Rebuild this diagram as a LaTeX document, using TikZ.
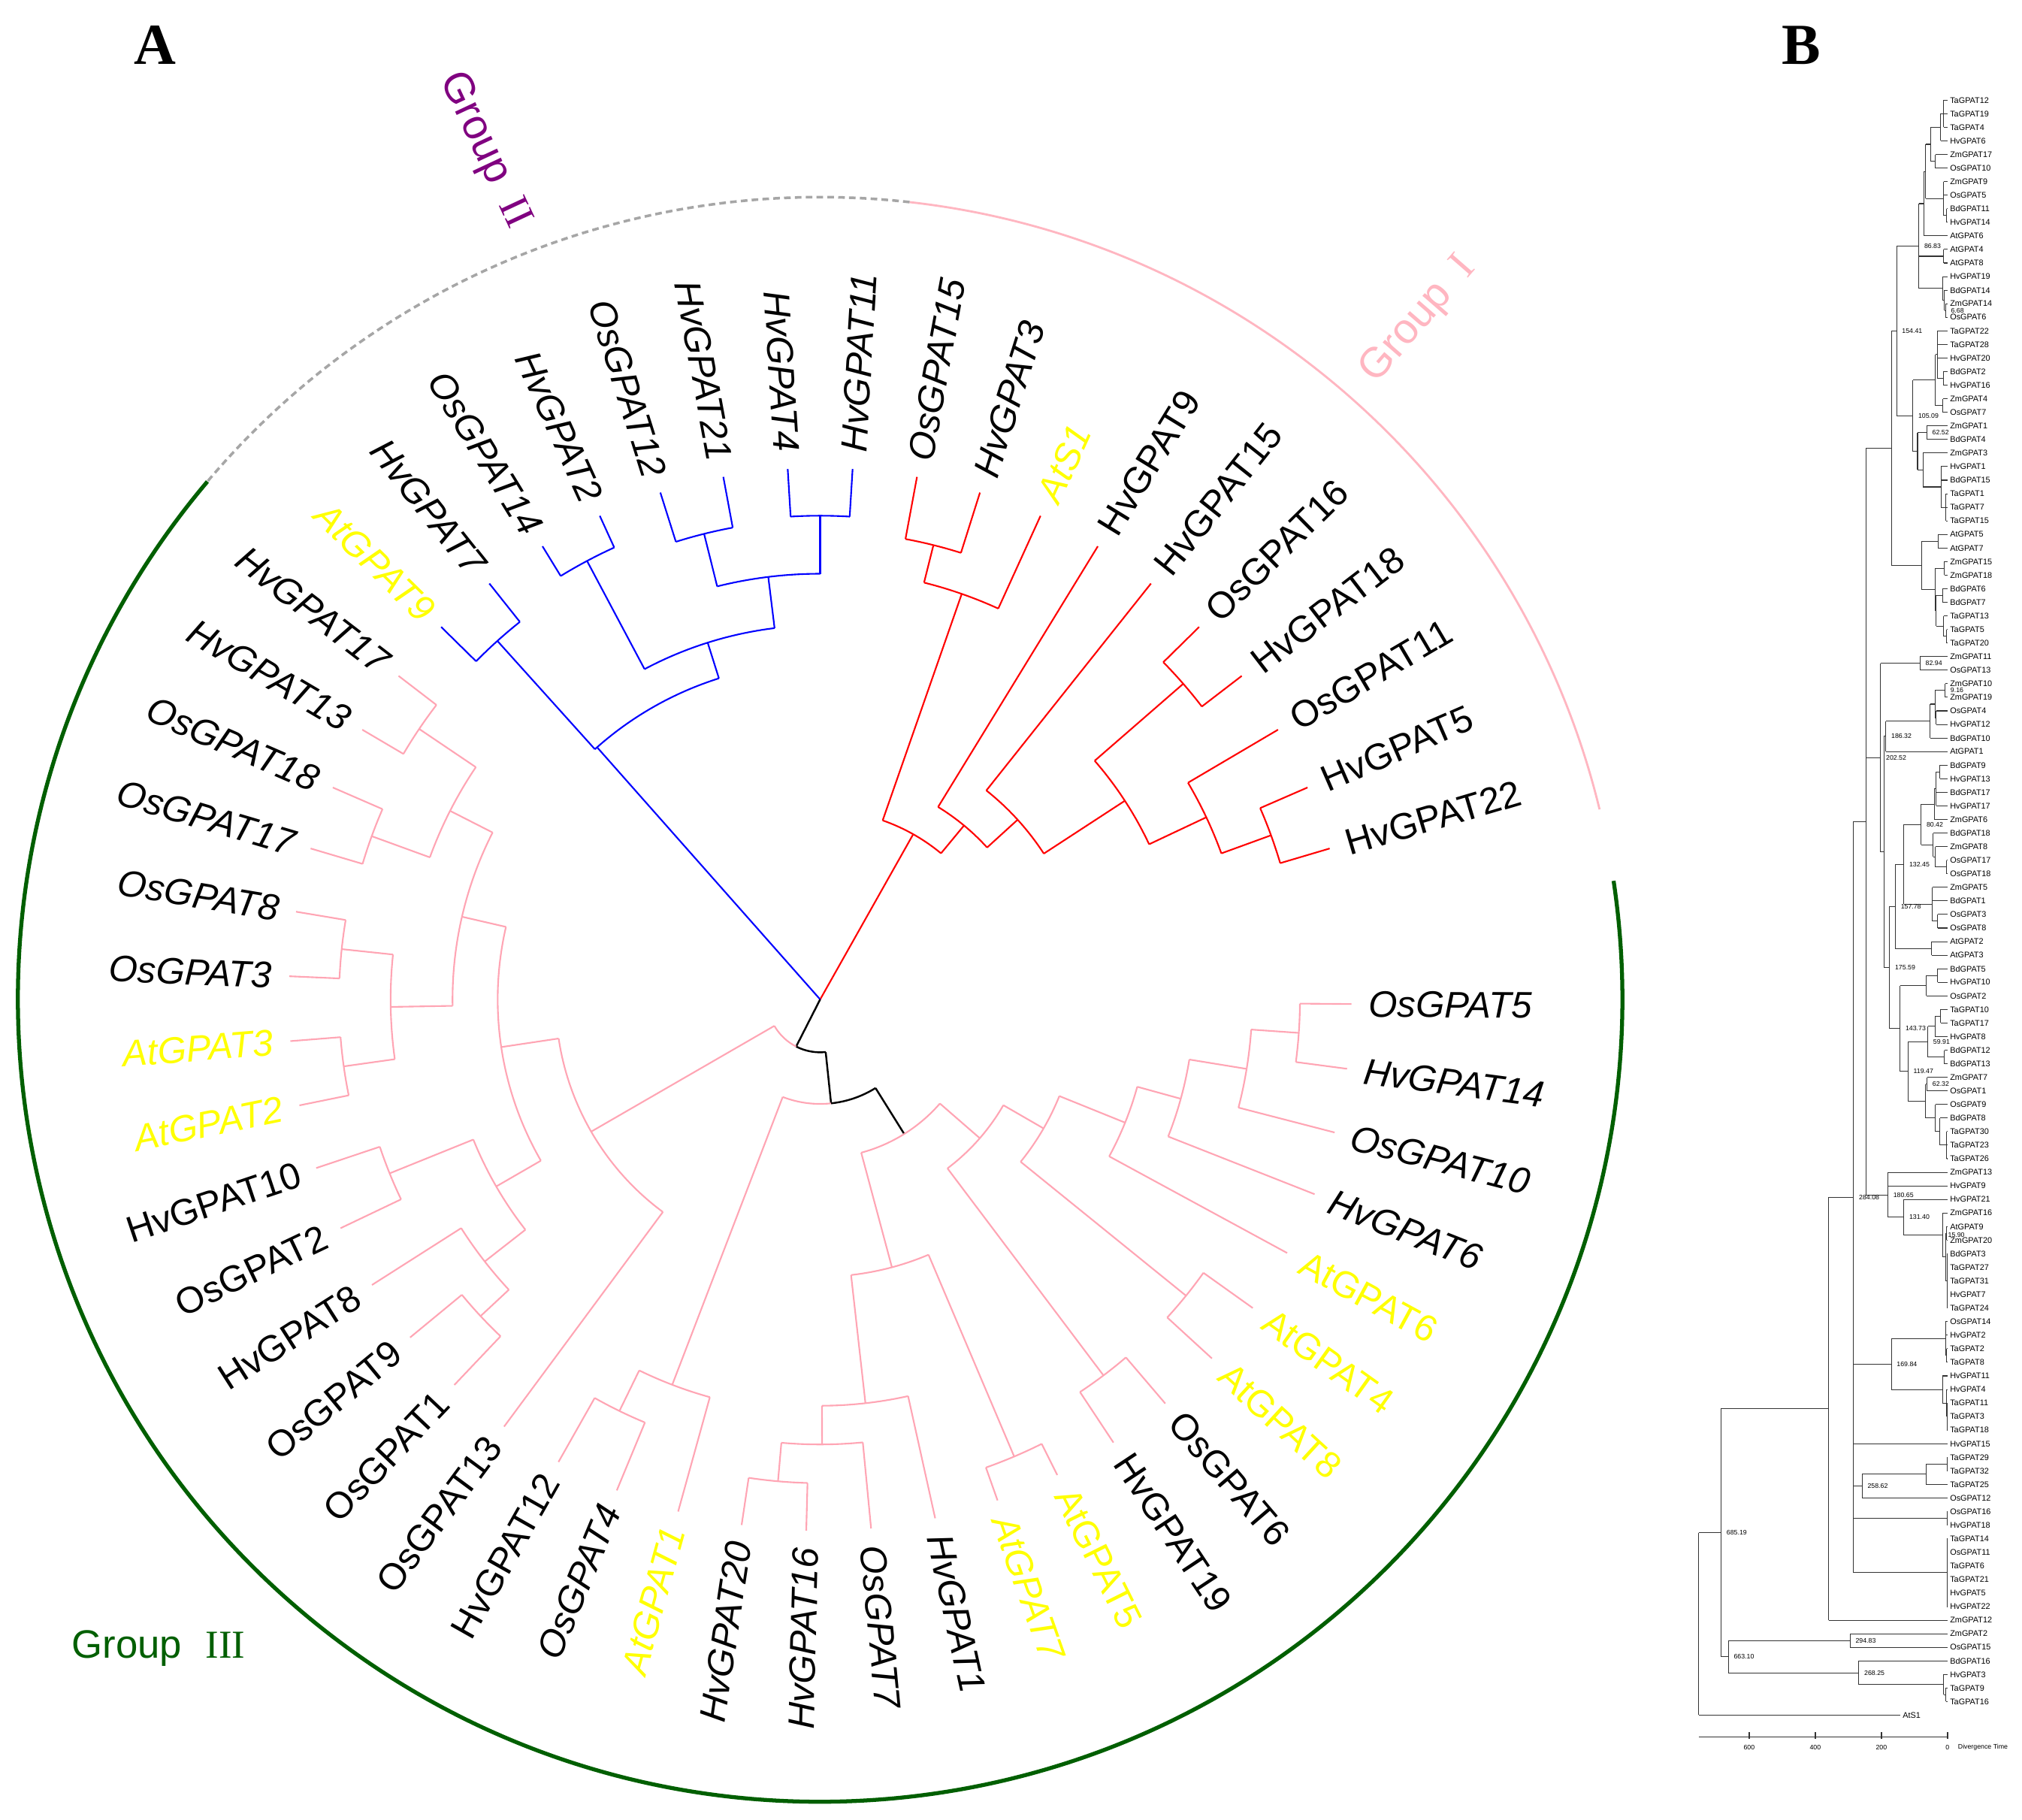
\documentclass[tikz,border=0pt]{standalone}
\usepackage{fontspec}
\setmainfont{Liberation Sans}
\newfontfamily\serifhead{Liberation Serif}
\usetikzlibrary{positioning,calc}

\definecolor{pinkline}{RGB}{255,165,180}
\definecolor{pinkgroup}{RGB}{255,182,193}
\definecolor{purplegroup}{RGB}{128,0,128}
\definecolor{greengroup}{RGB}{0,95,0}
\definecolor{atyellow}{RGB}{255,255,0}

\tikzset{
  redb/.style={red, line width=0.6pt},
  blueb/.style={blue, line width=0.6pt},
  pinkb/.style={pinkline, line width=0.6pt},
  blackb/.style={black, line width=0.7pt},
  leaflab/.style={inner sep=0pt, font=\fontsize{14}{16}\selectfont},
  grouplab/.style={inner sep=0pt, font=\fontsize{16}{18}\selectfont},
  blab/.style={anchor=west, inner sep=0pt, font=\fontsize{3.1}{3.5}\selectfont},
  tlab/.style={anchor=west, inner sep=0pt, font=\fontsize{2.5}{3}\selectfont},
  bline/.style={black!80, line width=0.3pt},
}
% polar tree helpers: style, angle, r1, r2 / style, radius, a1, a2
\newcommand\radial[4]{\draw[#1] (#2:#3) -- (#2:#4);}
\newcommand\cladearc[4]{\draw[#1] (#3:#2) arc[start angle=#3, end angle=#4, radius={#2*0.01716cm}];}
\newcommand\leafpair[4]{\cladearc{#1}{#2}{#3}{#4}\radial{#1}{#3}{#2}{412}\radial{#1}{#4}{#2}{412}}

\begin{document}
\begin{tikzpicture}
\fill[white] (0,0) rectangle (26.91,24.21);
\useasboundingbox (0,0) rectangle (26.91,24.21);

\node[font=\serifhead\bfseries\fontsize{22}{24}\selectfont] (hA) at (2.06,23.61) {A};
\node[font=\serifhead\bfseries\fontsize{22}{24}\selectfont] (hB) at (23.97,23.61) {B};

%% panel A: circular tree
\begin{scope}[shift={(10.915,10.91)}, x=0.01716cm, y=0.01716cm]

% group rings
\cladearc{pinkgroup, line width=0.8pt}{622}{13.7}{83.6}
\cladearc{gray!70, line width=1pt, dash pattern=on 2.5pt off 1.6pt}{622}{83.6}{139.8}
\cladearc{greengroup, line width=1.5pt}{622}{139.8}{368.5}

\node[grouplab, text=pinkgroup, rotate=49] (gI) at (464,527) {Group\hspace{0.5em}{\serifhead I}};
\node[grouplab, text=purplegroup, rotate=-65] (gII) at (-260,658) {Group\hspace{0.5em}{\serifhead II}};
\node[grouplab, text=greengroup, font=\fontsize{15}{17}\selectfont] (gIII) at (-513,-503) {Group\hspace{0.6em}{\serifhead III}};

% group I
\radial{redb}{60.6}{0}{147}
\cladearc{redb}{147}{50.4}{70.75}
\radial{redb}{70.75}{147}{333}
\cladearc{redb}{333}{65.5}{76}
\radial{redb}{65.5}{333}{412}
\radial{redb}{76}{333}{363}
\leafpair{redb}{363}{72.5}{79.5}
\radial{redb}{50.4}{147}{175}
\cladearc{redb}{175}{42.3}{58.5}
\radial{redb}{58.5}{175}{412}
\radial{redb}{42.3}{175}{207}
\cladearc{redb}{207}{33.1}{51.5}
\radial{redb}{51.5}{207}{412}
\radial{redb}{33.1}{207}{282}
\cladearc{redb}{282}{25.25}{41}
\radial{redb}{41}{282}{373}
\leafpair{redb}{373}{37.5}{44.5}
\radial{redb}{25.25}{282}{331}
\cladearc{redb}{331}{20}{30.5}
\radial{redb}{30.5}{331}{412}
\radial{redb}{20}{331}{372}
\leafpair{redb}{372}{16.5}{23.5}

% group II
\radial{blueb}{131.5}{0}{261}
\cladearc{blueb}{261}{107.5}{132}
\radial{blueb}{132}{261}{374}
\leafpair{blueb}{374}{128.5}{135.5}
\radial{blueb}{107.5}{261}{290}
\cladearc{blueb}{290}{97}{118}
\radial{blueb}{118}{290}{385}
\leafpair{blueb}{385}{114.5}{121.5}
\radial{blueb}{97}{290}{330}
\cladearc{blueb}{330}{90}{104}
\radial{blueb}{104}{330}{372}
\leafpair{blueb}{372}{100.5}{107.5}
\radial{blueb}{90}{330}{375}
\leafpair{blueb}{375}{86.5}{93.5}

% backbone to group III
\radial{blackb}{243}{0}{41}
\cladearc{blackb}{41}{243}{276}
\cladearc{pinkb}{41}{210}{243}
\radial{blackb}{276}{41}{81}
\cladearc{pinkb}{81}{249}{276}
\cladearc{blackb}{81}{276}{302}
\radial{blackb}{302}{81}{123}
\cladearc{pinkb}{123}{285}{319}

% group III, left part
\radial{pinkb}{210}{41}{205}
\cladearc{pinkb}{205}{188.5}{233.5}
\radial{pinkb}{233.5}{205}{412}
\radial{pinkb}{188.5}{205}{250}
\cladearc{pinkb}{250}{167}{210}
\radial{pinkb}{167}{250}{285}
\cladearc{pinkb}{285}{153}{181}
\radial{pinkb}{153}{285}{322}
\cladearc{pinkb}{322}{146}{160}
\radial{pinkb}{146}{322}{375}
\leafpair{pinkb}{375}{142.5}{149.5}
\radial{pinkb}{160}{322}{370}
\leafpair{pinkb}{370}{156.5}{163.5}
\radial{pinkb}{181}{285}{333}
\cladearc{pinkb}{333}{174}{188}
\radial{pinkb}{174}{333}{373}
\leafpair{pinkb}{373}{170.5}{177.5}
\radial{pinkb}{188}{333}{373}
\leafpair{pinkb}{373}{184.5}{191.5}
\radial{pinkb}{210}{250}{290}
\cladearc{pinkb}{290}{202}{218}
\radial{pinkb}{202}{290}{360}
\leafpair{pinkb}{360}{198.5}{205.5}
\radial{pinkb}{218}{290}{330}
\cladearc{pinkb}{330}{212.5}{223}
\radial{pinkb}{212.5}{330}{412}
\radial{pinkb}{223}{330}{360}
\leafpair{pinkb}{360}{219.5}{226.5}

% group III, bottom
\radial{pinkb}{249}{81}{320}
\cladearc{pinkb}{320}{244}{254.5}
\radial{pinkb}{254.5}{320}{412}
\radial{pinkb}{244}{320}{355}
\leafpair{pinkb}{355}{240.5}{247.5}
\radial{pinkb}{285}{123}{215}
\cladearc{pinkb}{215}{276.4}{293}
\radial{pinkb}{276.4}{215}{315}
\cladearc{pinkb}{315}{270.25}{282.5}
\radial{pinkb}{282.5}{315}{412}
\radial{pinkb}{270.25}{315}{345}
\cladearc{pinkb}{345}{265}{275.5}
\radial{pinkb}{275.5}{345}{412}
\radial{pinkb}{265}{345}{375}
\leafpair{pinkb}{375}{261.5}{268.5}
\radial{pinkb}{293}{215}{385}
\leafpair{pinkb}{385}{289.5}{296.5}

% group III, right
\radial{pinkb}{319}{123}{164}
\cladearc{pinkb}{164}{307}{330}
\radial{pinkb}{307}{164}{365}
\leafpair{pinkb}{365}{303.5}{310.5}
\radial{pinkb}{330}{164}{200}
\cladearc{pinkb}{200}{321}{338}
\radial{pinkb}{321}{200}{365}
\leafpair{pinkb}{365}{317.5}{324.5}
\radial{pinkb}{338}{200}{255}
\cladearc{pinkb}{255}{331.5}{344.6}
\radial{pinkb}{331.5}{255}{412}
\radial{pinkb}{344.6}{255}{290}
\cladearc{pinkb}{290}{338.5}{350.75}
\radial{pinkb}{338.5}{290}{412}
\radial{pinkb}{350.75}{290}{335}
\cladearc{pinkb}{335}{345.5}{356}
\radial{pinkb}{345.5}{335}{412}
\radial{pinkb}{356}{335}{372}
\leafpair{pinkb}{372}{352.5}{359.5}

% leaf labels
\foreach \nm/\col/\sh [count=\i from 0] in {HvGPAT22/black/n, HvGPAT5/black/n, OsGPAT11/black/n, HvGPAT18/black/n, OsGPAT16/black/n, HvGPAT15/black/n, HvGPAT9/black/n, AtS1/atyellow/i, HvGPAT3/black/i, OsGPAT15/black/i, HvGPAT11/black/i, HvGPAT4/black/i, HvGPAT21/black/i, OsGPAT12/black/i, HvGPAT2/black/i, OsGPAT14/black/i, HvGPAT7/black/i, AtGPAT9/atyellow/i, HvGPAT17/black/i, HvGPAT13/black/i, OsGPAT18/black/i, OsGPAT17/black/i, OsGPAT8/black/i, OsGPAT3/black/i, AtGPAT3/atyellow/i, AtGPAT2/atyellow/i, HvGPAT10/black/n, OsGPAT2/black/n, HvGPAT8/black/n, OsGPAT9/black/n, OsGPAT1/black/n, OsGPAT13/black/n, HvGPAT12/black/n, OsGPAT4/black/i, AtGPAT1/atyellow/i, HvGPAT20/black/i, HvGPAT16/black/i, OsGPAT7/black/i, HvGPAT1/black/i, AtGPAT7/atyellow/i, AtGPAT5/atyellow/n, HvGPAT19/black/n, OsGPAT6/black/n, AtGPAT8/atyellow/n, AtGPAT4/atyellow/n, AtGPAT6/atyellow/n, HvGPAT6/black/i, OsGPAT10/black/i, HvGPAT14/black/i, OsGPAT5/black/i} {
  \pgfmathsetmacro\ang{16.5+7*\i}
  \pgfmathtruncatemacro\lft{(\ang>90)&&(\ang<270)}
  \ifnum\lft=1
    \node[leaflab, text=\col, anchor=east, rotate=\ang-180] (l\i) at (\ang:425) {\if\sh i\itshape\fi\nm};
  \else
    \node[leaflab, text=\col, anchor=west, rotate=\ang] (l\i) at (\ang:425) {\if\sh i\itshape\fi\nm};
  \fi
}
\end{scope}

%% panel B: time tree
\begin{scope}[shift={(22.30,23.0576)}, x=0.0033333cm, y=-0.1806cm]
% leaves
\foreach \px/\nm [count=\k] in {1072/TaGPAT12, 1072/TaGPAT19, 1072/TaGPAT4, 1060/HvGPAT6, 1040/ZmGPAT17, 1040/OsGPAT10, 1072/ZmGPAT9, 1072/OsGPAT5, 1085/BdGPAT11, 1085/HvGPAT14, 993/AtGPAT6, 1072/AtGPAT4, 1072/AtGPAT8, 1070/HvGPAT19, 1076/BdGPAT14, 1080/ZmGPAT14, 1080/OsGPAT6, 1048/TaGPAT22, 1048/TaGPAT28, 1048/HvGPAT20, 1072/BdGPAT2, 1072/HvGPAT16, 1070/ZmGPAT4, 1070/OsGPAT7, 1005/ZmGPAT1, 1005/BdGPAT4, 990/ZmGPAT3, 1062/HvGPAT1, 1062/BdGPAT15, 1082/TaGPAT1, 1082/TaGPAT7, 1082/TaGPAT15, 1050/AtGPAT5, 1050/AtGPAT7, 1075/ZmGPAT15, 1075/ZmGPAT18, 1070/BdGPAT6, 1070/BdGPAT7, 1072/TaGPAT13, 1085/TaGPAT5, 1085/TaGPAT20, 978/ZmGPAT11, 978/OsGPAT13, 1078/ZmGPAT10, 1078/ZmGPAT19, 1043/OsGPAT4, 1043/HvGPAT12, 1018/BdGPAT10, 841/AtGPAT1, 1058/BdGPAT9, 1058/HvGPAT13, 1043/BdGPAT17, 1043/HvGPAT17, 1035/ZmGPAT6, 1030/BdGPAT18, 1040/ZmGPAT8, 1085/OsGPAT17, 1085/OsGPAT18, 1028/ZmGPAT5, 1028/BdGPAT1, 1048/OsGPAT3, 1048/OsGPAT8, 1025/AtGPAT2, 1025/AtGPAT3, 1048/BdGPAT5, 1048/HvGPAT10, 1003/OsGPAT2, 1060/TaGPAT10, 1060/TaGPAT17, 1038/HvGPAT8, 1075/BdGPAT12, 1075/BdGPAT13, 1006/ZmGPAT7, 1006/OsGPAT1, 1040/OsGPAT9, 1058/BdGPAT8, 1085/TaGPAT30, 1085/TaGPAT23, 1085/TaGPAT26, 849/ZmGPAT13, 849/HvGPAT9, 913/HvGPAT21, 1068/ZmGPAT16, 1084/AtGPAT9, 1084/ZmGPAT20, 1086/BdGPAT3, 1086/TaGPAT27, 1086/TaGPAT31, 1086/HvGPAT7, 1086/TaGPAT24, 1080/OsGPAT14, 1080/HvGPAT2, 1085/TaGPAT2, 1085/TaGPAT8, 1068/HvGPAT11, 1085/HvGPAT4, 1086/TaGPAT11, 1086/TaGPAT3, 1086/TaGPAT18, 712/HvGPAT15, 1086/TaGPAT29, 1086/TaGPAT32, 1002/TaGPAT25, 746/OsGPAT12, 1086/OsGPAT16, 1086/HvGPAT18, 1086/TaGPAT14, 1086/OsGPAT11, 1086/TaGPAT6, 1086/TaGPAT21, 1086/HvGPAT5, 1086/HvGPAT22, 612/ZmGPAT12, 698/ZmGPAT2, 698/OsGPAT15, 733/BdGPAT16, 1072/HvGPAT3, 1082/TaGPAT9, 1082/TaGPAT16} {
  \draw[bline] (\px,\k) -- (1088,\k);
  \node[blab] (b\k) at (1096,\k) {\nm};
}
\draw[bline] (93,120) -- (900,120);
\node[blab] (b120) at (907,120) {AtS1};

% internal nodes: x / y / top / bottom / parent x
\foreach \x/\y/\ya/\yb/\px in {1072/2/1/3/1060, 1060/3/2/4/1020, 1040/5.5/5/6/1020, 1020/4.25/3/5.5/1000, 1085/9.5/9/10/1072, 1072/8.25/7/9.5/1000, 1000/6.25/4.25/8.25/993, 993/8.625/6.25/11/973, 1072/12.5/12/13/973, 1080/16.5/16/17/1076, 1076/15.75/15/16.5/1070, 1070/14.875/14/15.75/973, 973/11.75/8.625/14.875/884, 1072/21.5/21/22/1048, 1048/19.75/18/21.5/1040, 1070/23.5/23/24/1040, 1040/21.625/19.75/23.5/949, 1005/25.5/25/26/968, 1082/31/30/32/1062, 1062/29.5/28/31/990, 990/28.25/27/29.5/968, 968/26.875/25.5/28.25/949, 949/24.25/21.625/26.875/884, 884/18/11.75/24.25/863, 1050/33.5/33/34/985, 1075/35.5/35/36/1038, 1070/37.5/37/38/1042, 1085/40.5/40/41/1072, 1072/39.75/39/40.5/1042, 1042/38.625/37.5/39.75/1038, 1038/37.06/35.5/38.625/985, 985/35.28/33.5/37.06/863, 863/26.64/18/35.28/762, 978/42.5/42/43/820, 1078/44.5/44/45/1038, 1043/46.5/46/47/1038, 1038/45.5/44.5/46.5/1018, 1018/46.75/45.5/48/841, 841/47.875/46.75/49/833, 1058/50.5/50/51/1043, 1043/51.75/50.5/53/1035, 1035/52.875/51.75/54/982, 1085/57.5/57/58/1040, 1040/56.75/56/57.5/1030, 1030/55.875/55/56.75/982, 982/54.375/52.875/55.875/913, 1048/61.5/61/62/1028, 1028/60.25/59/61.5/913, 913/57.31/54.375/60.25/879, 1025/63.5/63/64/879, 879/60.41/57.31/63.5/856, 1048/65.5/65/66/1003, 1003/66.25/65.5/67/898, 1060/68.5/68/69/1038, 1038/69.25/68.5/70/1009, 1075/71.5/71/72/1009, 1009/70.375/69.25/71.5/930, 1006/73.5/73/74/1000, 1085/78/77/79/1058, 1058/77/76/78/1040, 1040/76/75/77/1000, 1000/74.75/73.5/76/930, 930/72.56/70.375/74.75/898, 898/69.41/66.25/72.56/856, 856/64.91/60.41/69.41/833, 833/56.39/47.875/64.91/820, 820/49.45/42.5/56.39/762, 1084/84.5/84/85/1080, 1086/88/86/90/1080, 1080/86.25/84.5/88/1068, 1068/84.625/83/86.25/913, 913/83.31/82/84.625/849, 849/81.66/80/83.31/762, 762/54.15/26.64/81.66/712, 1085/93.5/93/94/1080, 1080/92.25/91/93.5/863, 1086/98/97/99/1085, 1085/97/96/98/1068, 1068/96/95/97/863, 863/94.125/92.25/96/712, 1086/101.5/101/102/1002, 1002/102.25/101.5/103/746, 746/103.125/102.25/104/712, 1086/105.5/105/106/712, 1086/109.5/107/112/712, 712/81.83/54.15/109.5/612, 612/97.4/81.83/113/182, 698/114.5/114/115/211, 1082/118.5/118/119/1072, 1072/117.75/117/118.5/733, 733/116.875/116/117.75/211, 211/115.69/114.5/116.875/182, 182/106.55/97.4/115.69/93} {
  \draw[bline] (\px,\y) -- (\x,\y) (\x,\ya) -- (\x,\yb);
}
\draw[bline] (93,106.55) -- (93,120);

% divergence times
\foreach \x/\y/\lab in {973/11.75/86.83, 884/18/154.41, 949/24.25/105.09, 1005/25.5/62.52, 1080/16.5/6.68, 978/42.5/82.94, 1078/44.5/9.16, 841/47.875/186.32, 820/49.45/202.52, 982/54.375/80.42, 913/57.31/132.45, 879/60.41/157.78, 856/64.91/175.59, 898/69.41/143.73, 1009/70.375/59.91, 930/72.56/119.47, 1006/73.5/62.32, 712/81.83/284.08, 849/81.66/180.65, 913/83.31/131.40, 1068/84.625/15.90, 863/94.125/169.84, 746/103.125/258.62, 182/106.55/685.19, 211/115.69/663.10, 698/114.5/294.83, 733/116.875/268.25} {
  \node[tlab] at (\x+20,\y) {\lab};
}

% time axis
\draw[bline, line width=0.4pt] (93,121.62) -- (1088,121.62);
\foreach \tx/\tv in {1088/0, 823.4/200, 558.8/400, 294.2/600} {
  \draw[bline, line width=0.4pt] (\tx,121.25) -- (\tx,121.75);
  \node[tlab, anchor=center] at (\tx,122.36) {\tv};
}
\node[tlab] (axis) at (1128,122.36) {Divergence Time};
\end{scope}
\end{tikzpicture}
\end{document}
